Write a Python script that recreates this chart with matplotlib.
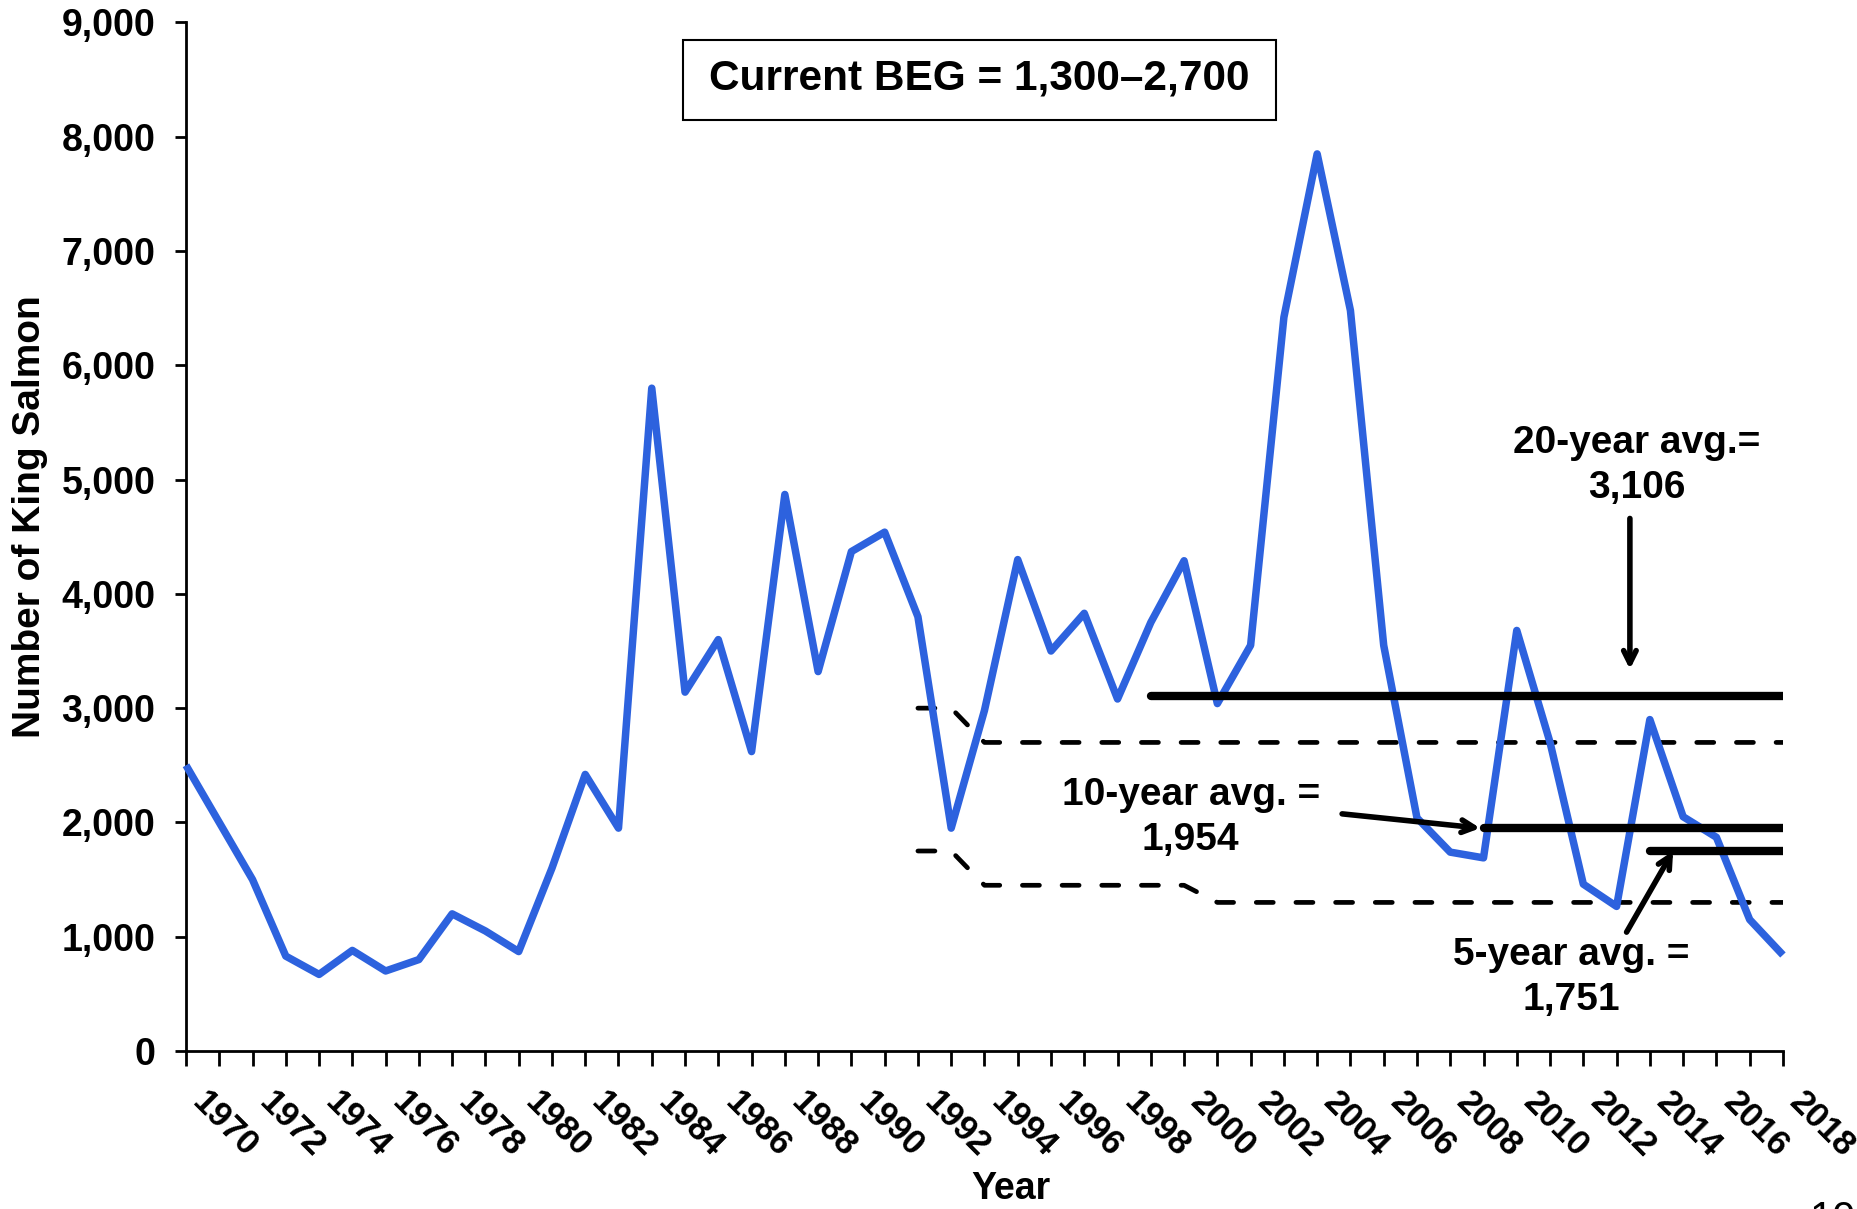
import matplotlib
matplotlib.use("Agg")
import matplotlib.pyplot as plt
from matplotlib.patches import Rectangle
from matplotlib.ticker import FuncFormatter, MultipleLocator

plt.rcParams['font.family'] = ['Liberation Sans', 'DejaVu Sans']
plt.rcParams['font.weight'] = 'bold'

# ---- data ----
years = list(range(1970, 2019))
escapement = [2500, 2000, 1500, 830, 670, 880, 700, 800, 1200, 1050,
              870, 1600, 2420, 1950, 5800, 3140, 3600, 2620, 4870, 3320,
              4370, 4540, 3800, 1950, 2980, 4300, 3500, 3830, 3080, 3750,
              4290, 3040, 3550, 6420, 7850, 6480, 3550, 2040, 1740, 1690,
              3680, 2700, 1460, 1265, 2900, 2050, 1870, 1150, 840]

goal_years = [1992, 1993, 1994, 2000, 2001, 2018]
goal_upper = [3000, 3000, 2700, 2700, 2700, 2700]
goal_lower = [1750, 1750, 1450, 1450, 1300, 1300]

avg20_years = [1999, 2018]
avg20_value = 3106
avg10_years = [2009, 2018]
avg10_value = 1954
avg5_years = [2014, 2018]
avg5_value = 1751

xtick_years = list(range(1970, 2019, 2))
xtick_labels = [str(y) for y in xtick_years]
ytick_values = [0, 1000, 2000, 3000, 4000, 5000, 6000, 7000, 8000, 9000]

BLUE = '#2D62DE'

# ---- figure ----
fig = plt.figure(figsize=(18.58, 12.09), dpi=100)
ax = fig.add_axes([0.1001, 0.1307, 0.8595, 0.8507])

ax.plot(years, escapement, color=BLUE, lw=5.4, solid_joinstyle='round',
        solid_capstyle='butt', zorder=3, clip_on=False)

dash_kw = dict(color='black', lw=3.4, dashes=(3.6, 4.8), dash_capstyle='round', zorder=2)
ax.plot(goal_years, goal_upper, **dash_kw)
ax.plot(goal_years, goal_lower, **dash_kw)

avg_kw = dict(color='black', lw=6, solid_capstyle='round', zorder=4)
ax.plot(avg20_years, [avg20_value] * 2, **avg_kw)
ax.plot(avg10_years, [avg10_value] * 2, **avg_kw)
ax.plot(avg5_years, [avg5_value] * 2, **avg_kw)

ax.set_xlim(1970, 2018)
ax.set_ylim(0, 9000)
ax.set_yticks(ytick_values)
ax.yaxis.set_major_formatter(FuncFormatter(lambda v, p: f"{int(v):,}"))
ax.set_xticks(xtick_years)
ax.set_xticklabels(xtick_labels, rotation=-45, ha='left', va='top',
                   rotation_mode='default')
ax.xaxis.set_minor_locator(MultipleLocator(1))

for s in ['top', 'right']:
    ax.spines[s].set_visible(False)
for s in ['left', 'bottom']:
    ax.spines[s].set_linewidth(2)
ax.tick_params(axis='y', direction='out', length=8, width=2, pad=14,
               labelsize=27)
ax.tick_params(axis='x', which='both', direction='out', length=11, width=2,
               pad=14, labelsize=25)

fig.text(30 / 1858, 1 - 517 / 1209, 'Number of King Salmon', rotation=90,
         ha='center', va='center', fontsize=28, fontweight='bold')
fig.text(1011 / 1858, 1 - 1189 / 1209, 'Year', ha='center', va='center',
         fontsize=27, fontweight='bold')

# BEG box
fig.patches.append(Rectangle((683 / 1858, 1 - 120 / 1209), 593 / 1858, 80 / 1209,
                             transform=fig.transFigure, fill=False,
                             edgecolor='black', lw=1.5))
fig.text(979 / 1858, 1 - 79 / 1209, 'Current BEG = 1,300\u20132,700',
         ha='center', va='center', fontsize=30.5, fontweight='bold')

arrow_kw = dict(arrowstyle='->,head_length=0.9,head_width=0.45', color='black',
                lw=4, shrinkA=0, shrinkB=0)
ax.annotate('', xy=(2013.4, 3340), xytext=(2013.4, 4660), arrowprops=arrow_kw)
ax.text(2013.6, 5120, '20-year avg.=\n3,106', ha='center', va='center',
        fontsize=28, fontweight='bold', linespacing=1.32)

ax.annotate('', xy=(2008.9, 1950), xytext=(2004.75, 2075), arrowprops=arrow_kw)
ax.text(2000.2, 2040, '10-year avg. =\n1,954', ha='center', va='center',
        fontsize=28, fontweight='bold', linespacing=1.32)

ax.annotate('', xy=(2014.7, 1750), xytext=(2013.3, 1040), arrowprops=arrow_kw)
ax.text(2011.65, 640, '5-year avg. =\n1,751', ha='center', va='center',
        fontsize=28, fontweight='bold', linespacing=1.32)

fig.text(1810 / 1858, 1 - 1200 / 1209, '10', ha='left', va='top',
         fontsize=30, fontweight='normal')

fig.savefig('out.png', dpi=100)
